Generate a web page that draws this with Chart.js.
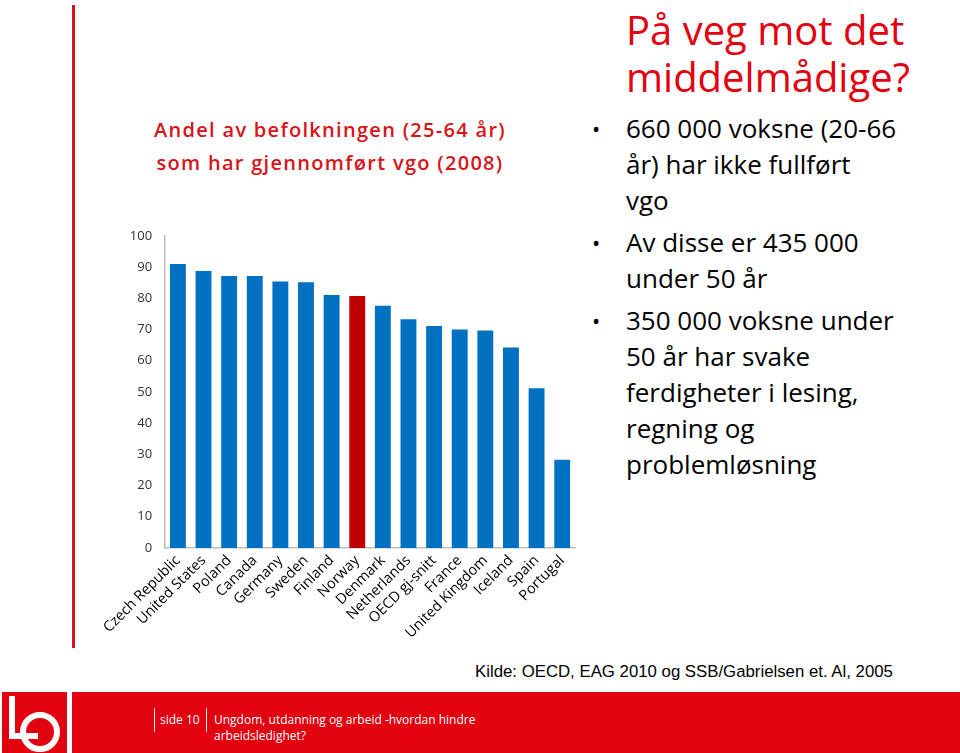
<!DOCTYPE html>
<html>
<head>
<meta charset="utf-8">
<script src="https://cdn.jsdelivr.net/npm/chart.js@4/dist/chart.umd.min.js"></script>
<style>
  html, body { margin: 0; padding: 0; background: #fff; }
  body { width: 960px; height: 753px; position: relative; overflow: hidden; font-family: "Open Sans", sans-serif; }
  .vline { position: absolute; left: 72px; top: 5px; width: 3px; height: 643px; background: #d7141a; }
  .ctitle { position: absolute; left: 110px; width: 440px; top: 113px; text-align: center; color: #d7141a;
            font-family: "Open Sans", sans-serif; font-weight: 600; font-size: 20px; line-height: 33px; letter-spacing: 1.3px; }
  .wrap { position: absolute; left: 100px; top: 215px; width: 485px; height: 434px; }
  .head { position: absolute; left: 626px; top: 6px; color: #e3000f; font-family: "Open Sans", sans-serif;
          font-size: 40px; line-height: 47px; }
  ul.pts { position: absolute; left: 592px; top: 110px; margin: 0; padding: 0; list-style: none; width: 360px;
           font-family: "Open Sans", sans-serif; font-size: 26px; line-height: 36px; color: #000; }
  ul.pts li { position: relative; padding-left: 34px; margin-bottom: 6px; }
  ul.pts li::before { content: "\2022"; position: absolute; left: 0; top: 0; font-size: 22px; }
  .src { position: absolute; left: 475px; top: 662px; font-family: "Liberation Sans", Arial, sans-serif; font-size: 16.8px; color: #000; }
  .bar { position: absolute; left: 72px; top: 692px; width: 888px; height: 61px; background: #e3000f; }
  .logo { position: absolute; left: 2px; top: 692px; width: 65px; height: 61px; background: #e3000f; }
  .foot { position: absolute; top: 712px; color: #fff; font-family: "Open Sans", sans-serif; font-size: 12px; line-height: 16px; }
  .sep { position: absolute; top: 708px; width: 1px; height: 24px; background: #fff; }
</style>
</head>
<body>
<div class="vline"></div>
<div class="ctitle">Andel av befolkningen (25-64 år)<br>som har gjennomført vgo (2008)</div>
<div class="wrap"><canvas id="vgoChart"></canvas></div>

<div class="head">På veg mot det<br>middelmådige?</div>
<ul class="pts">
  <li>660 000 voksne (20-66<br>år) har ikke fullført<br>vgo</li>
  <li>Av disse er 435 000<br>under 50 år</li>
  <li>350 000 voksne under<br>50 år har svake<br>ferdigheter i lesing,<br>regning og<br>problemløsning</li>
</ul>

<div class="src">Kilde: OECD, EAG 2010 og SSB/Gabrielsen et. Al, 2005</div>

<div class="logo">
  <svg width="65" height="61" viewBox="0 0 65 61">
    <path d="M10 4 V44 H36" fill="none" stroke="#fff" stroke-width="6"/>
    <circle cx="38" cy="40" r="17" fill="none" stroke="#fff" stroke-width="6"/>
  </svg>
</div>
<div class="bar"></div>
<div class="sep" style="left:154px"></div>
<div class="foot" style="left:160px">side 10</div>
<div class="sep" style="left:206px"></div>
<div class="foot" style="left:214px">Ungdom, utdanning og arbeid -hvordan hindre<br>arbeidsledighet?</div>

<script>
const countries = ['Czech Republic', 'United States', 'Poland', 'Canada', 'Germany', 'Sweden', 'Finland', 'Norway',
                   'Denmark', 'Netherlands', 'OECD gj-snitt', 'France', 'United Kingdom', 'Iceland', 'Spain', 'Portugal'];
const shareVgo = [91, 88.7, 87.1, 87.1, 85.4, 85.1, 81, 80.7, 77.6, 73.3, 71.1, 70, 69.7, 64.2, 51.2, 28.3];
const highlight = 'Norway';
const yTicks = [0, 10, 20, 30, 40, 50, 60, 70, 80, 90, 100];

const BLUE = '#0070c0';
const RED = '#c00000';

const el = document.getElementById('vgoChart');
new Chart(el, {
    type: 'bar',
    data: {
        labels: countries,
        datasets: [{
            data: shareVgo,
            backgroundColor: countries.map(c => c === highlight ? RED : BLUE),
            barPercentage: 0.62,
            categoryPercentage: 1
        }]
    },
    options: {
        responsive: true,
        maintainAspectRatio: false,
        animation: false,
        layout: { padding: { top: 0, right: 10, left: 0, bottom: 0 } },
        plugins: { legend: { display: false }, tooltip: { enabled: false } },
        scales: {
            x: {
                grid: { display: false, drawTicks: false },
                border: { color: '#bfbfbf', width: 1.5 },
                ticks: {
                    color: '#000',
                    font: { family: 'Open Sans', size: 14.5 },
                    minRotation: 45, maxRotation: 45,
                    autoSkip: false, padding: 4
                },
                afterFit: s => { s.height = 101; }
            },
            y: {
                min: 0, max: 100,
                grid: { display: false, drawTicks: false },
                border: { color: '#bfbfbf', width: 1.5 },
                afterBuildTicks: s => { s.ticks = yTicks.map(v => ({ value: v })); },
                ticks: {
                    color: '#333',
                    font: { family: 'Open Sans', size: 13 },
                    padding: 13
                },
                afterFit: s => { s.width = 64; }
            }
        }
    }
});
</script>
</body>
</html>
